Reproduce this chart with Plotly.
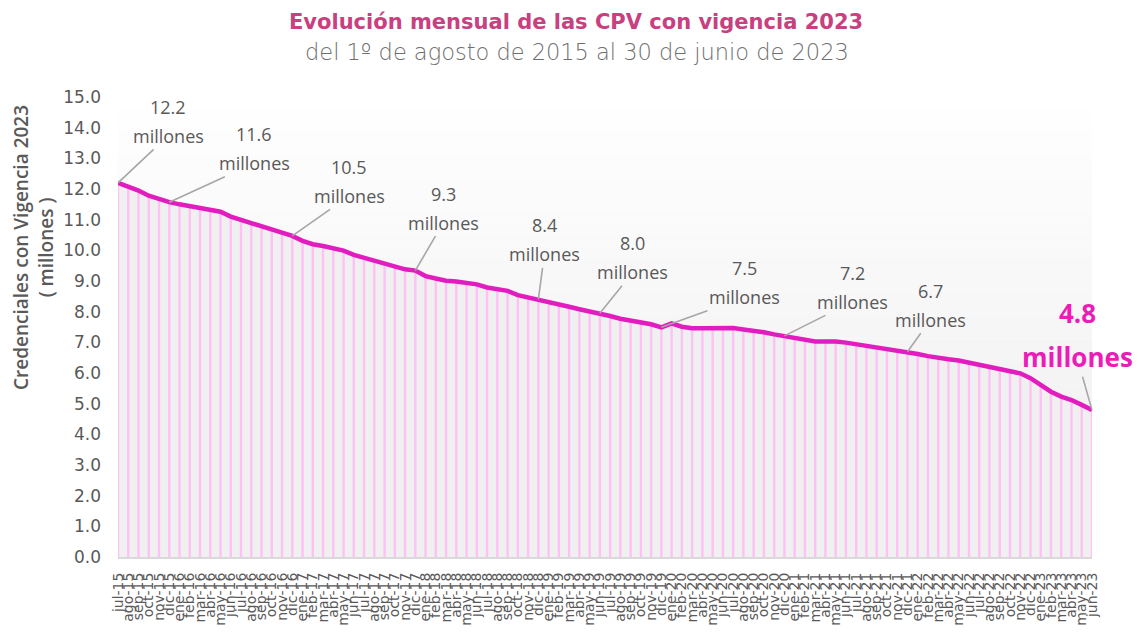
import plotly.graph_objects as go

meses = ["jul-15", "ago-15", "sep-15", "oct-15", "nov-15", "dic-15",
         "ene-16", "feb-16", "mar-16", "abr-16", "may-16", "jun-16", "jul-16", "ago-16", "sep-16", "oct-16", "nov-16", "dic-16",
         "ene-17", "feb-17", "mar-17", "abr-17", "may-17", "jun-17", "jul-17", "ago-17", "sep-17", "oct-17", "nov-17", "dic-17",
         "ene-18", "feb-18", "mar-18", "abr-18", "may-18", "jun-18", "jul-18", "ago-18", "sep-18", "oct-18", "nov-18", "dic-18",
         "ene-19", "feb-19", "mar-19", "abr-19", "may-19", "jun-19", "jul-19", "ago-19", "sep-19", "oct-19", "nov-19", "dic-19",
         "ene-20", "feb-20", "mar-20", "abr-20", "may-20", "jun-20", "jul-20", "ago-20", "sep-20", "oct-20", "nov-20", "dic-20",
         "ene-21", "feb-21", "mar-21", "abr-21", "may-21", "jun-21", "jul-21", "ago-21", "sep-21", "oct-21", "nov-21", "dic-21",
         "ene-22", "feb-22", "mar-22", "abr-22", "may-22", "jun-22", "jul-22", "ago-22", "sep-22", "oct-22", "nov-22", "dic-22",
         "ene-23", "feb-23", "mar-23", "abr-23", "may-23", "jun-23"]

credenciales = [12.20, 12.08, 11.95, 11.78, 11.66, 11.57,
                11.50, 11.44, 11.39, 11.33, 11.26, 11.10, 10.99, 10.90, 10.79, 10.66, 10.55, 10.47,
                10.31, 10.20, 10.14, 10.06, 9.99, 9.85, 9.76, 9.66, 9.58, 9.49, 9.38, 9.34,
                9.16, 9.08, 9.01, 8.98, 8.92, 8.89, 8.79, 8.73, 8.68, 8.54, 8.47, 8.40,
                8.32, 8.25, 8.16, 8.08, 8.01, 7.95, 7.86, 7.77, 7.71, 7.64, 7.59, 7.49,
                7.62, 7.51, 7.46, 7.46, 7.47, 7.47, 7.47, 7.42, 7.38, 7.33, 7.26, 7.21,
                7.13, 7.08, 7.03, 7.03, 7.03, 6.99, 6.94, 6.89, 6.85, 6.79, 6.75, 6.69,
                6.62, 6.55, 6.49, 6.45, 6.41, 6.34, 6.26, 6.20, 6.13, 6.06, 5.99, 5.83,
                5.61, 5.39, 5.23, 5.12, 4.96, 4.79]

# Callout labels: month, number text
etiqueta_mes = ["jul-15", "dic-15", "dic-16", "dic-17", "dic-18", "jun-19", "dic-19", "dic-20", "dic-21"]
etiqueta_num = ["12.2", "11.6", "10.5", "9.3", "8.4", "8.0", "7.5", "7.2", "6.7"]
etiqueta_off = [(50, -47), (85, -39), (57, -40), (28, -48), (6, -45), (33, -41), (83, -30), (68, -34), (23, -32)]

ultimo_mes = "jun-23"
ultimo_num = "4.8"

GRAY = "#595959"
fig = go.Figure()

# area under the line
fig.add_trace(go.Scatter(x=meses, y=credenciales, mode="lines", fill="tozeroy",
                         fillcolor="#f0f0f0", line=dict(width=0), hoverinfo="skip",
                         showlegend=False))
# pink drop lines at each month
dx, dy = [], []
for m, v in zip(meses, credenciales):
    dx += [m, m, None]
    dy += [0, v, None]
fig.add_trace(go.Scatter(x=dx, y=dy, mode="lines", line=dict(color="#ffc0f5", width=2.4),
                         hoverinfo="skip", showlegend=False, connectgaps=False))
fig.add_trace(go.Scatter(x=meses, y=credenciales, mode="lines",
                         line=dict(color="#e21dbf", width=4.5), showlegend=False,
                         cliponaxis=False))

# background gradient of plot area
n = 40
shapes = []
for i in range(n):
    t = i / (n - 1)
    c = int(255 - (255 - 238) * t)
    shapes.append(dict(type="rect", xref="paper", yref="paper", x0=0, x1=1,
                       y0=1 - (i + 1) / n, y1=1 - i / n, fillcolor=f"rgb({c},{c},{c})",
                       line=dict(width=0), layer="below"))

annotations = []
idx = {m: i for i, m in enumerate(meses)}
for m, num, (ax, ay) in zip(etiqueta_mes, etiqueta_num, etiqueta_off):
    yv = credenciales[idx[m]]
    annotations.append(dict(x=m, y=yv, xref="x", yref="y", text="millones", showarrow=True,
                            arrowhead=0, arrowwidth=1.6, arrowcolor="#a6a6a6", ax=ax, ay=ay,
                            font=dict(family="Open Sans", size=18, color=GRAY)))
    annotations.append(dict(x=m, y=yv, xref="x", yref="y", text=num, showarrow=True,
                            arrowhead=0, arrowwidth=0.1, arrowcolor="rgba(0,0,0,0)", ax=ax, ay=ay - 29,
                            font=dict(family="Open Sans", size=18, color=GRAY)))

yv = credenciales[idx[ultimo_mes]]
annotations.append(dict(x=ultimo_mes, y=yv, xref="x", yref="y", text="<b>millones</b>", showarrow=True,
                        arrowhead=0, arrowwidth=1.6, arrowcolor="#a6a6a6", ax=-15, ay=-53,
                        font=dict(family="Open Sans", size=26, color="#ec1cb8")))
annotations.append(dict(x=ultimo_mes, y=yv, xref="x", yref="y", text="<b>" + ultimo_num + "</b>", showarrow=True,
                        arrowhead=0, arrowwidth=0.1, arrowcolor="rgba(0,0,0,0)", ax=-15, ay=-97,
                        font=dict(family="Open Sans", size=26, color="#ec1cb8")))

# screen coordinates of the plot area (page has an 8px body margin)
OFF = 8
L, R, T, B = 118, 1092, 97, 557
W, H = 1143 - OFF, 639 - OFF
def px(xp):
    return (xp - L) / (R - L)
def py(yp):
    return (B - yp) / (B - T)

annotations.append(dict(xref="paper", yref="paper", x=px(576), y=py(22), showarrow=False,
                        xanchor="center", yanchor="middle",
                        text="<b>Evolución mensual de las CPV con vigencia 2023</b>",
                        font=dict(family="DejaVu Sans", size=21, color="#c8407f")))
annotations.append(dict(xref="paper", yref="paper", x=px(577), y=py(52), showarrow=False,
                        xanchor="center", yanchor="middle",
                        text="del 1º de agosto de 2015 al 30 de junio de 2023",
                        font=dict(family="DejaVu Sans", size=22.5, color="#6f6f6f", weight=300)))
annotations.append(dict(xref="paper", yref="paper", x=px(33), y=py(248), showarrow=False,
                        xanchor="center", yanchor="middle",
                        textangle=-90, text="Credenciales con Vigencia 2023<br>( millones )",
                        font=dict(family="Open Sans", size=19, color=GRAY, weight=600)))

fig.update_layout(
    width=W, height=H,
    margin=dict(l=L - OFF, r=1143 - R, t=T - OFF, b=639 - B, pad=0),
    paper_bgcolor="white", plot_bgcolor="rgba(0,0,0,0)",
    shapes=shapes, annotations=annotations,
    xaxis=dict(type="category", range=[0, len(meses) - 1], tickmode="array", tickvals=meses,
               ticktext=meses, tickangle=-90, tickfont=dict(family="DejaVu Sans", size=14, color=GRAY),
               showline=True, linecolor="#d9d9d9", linewidth=2, showgrid=False, zeroline=False,
               ticks="", ticklabelstandoff=8, automargin=False),
    yaxis=dict(range=[0, 15], tickmode="linear", tick0=0, dtick=1, tickformat=".1f",
               tickfont=dict(family="DejaVu Sans", size=17, color=GRAY), showgrid=False,
               zeroline=False, showline=False, ticks="", ticklabelstandoff=16, automargin=False),
)

fig.write_html("out.html")
